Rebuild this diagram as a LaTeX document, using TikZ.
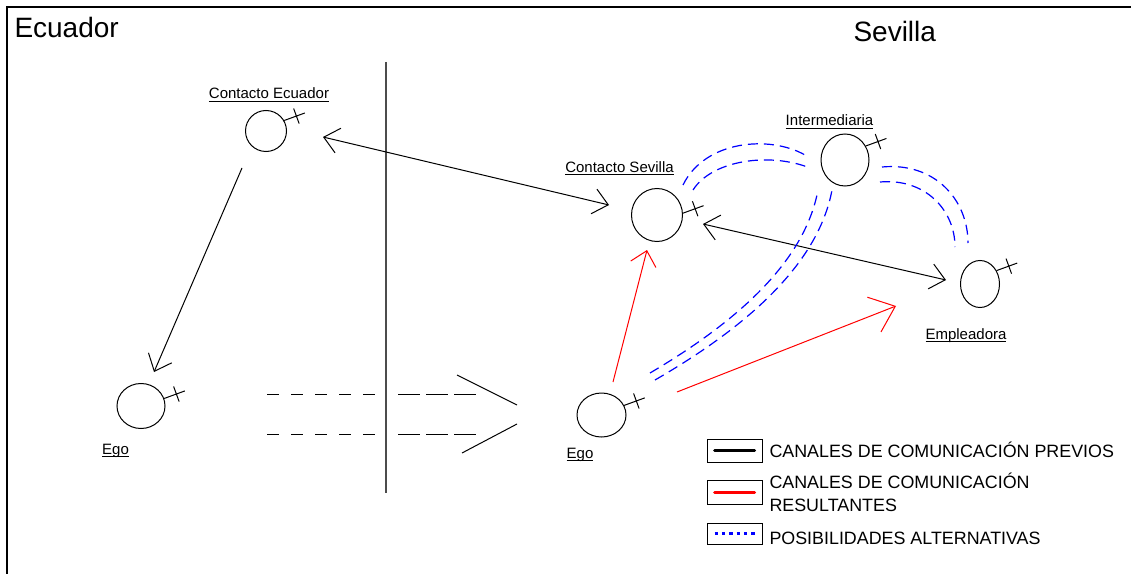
\documentclass[tikz,border=0pt]{standalone}
\usepackage{fontspec}
\setmainfont{Liberation Sans}
\usepackage{tikz}
\usepackage{xcolor}
\usetikzlibrary{arrows.meta,shapes.geometric}

\tikzset{
  persona/.style={draw, ellipse, inner sep=0pt},
  etiqueta/.style={font=\fontsize{11.25}{13}\selectfont, anchor=base, inner sep=0pt},
  titulo/.style={font=\fontsize{21}{25}\selectfont, anchor=base west, inner sep=0pt},
  leyenda/.style={font=\fontsize{13.4}{17.25}\selectfont, anchor=base west, inner sep=0pt, align=left},
  caja/.style={draw, rectangle, minimum width=41.25pt, inner sep=0pt},
  resultado/.style={red},
  alternativa/.style={blue, line width=0.9pt, dash pattern=on 7.5pt off 4.5pt},
  flecha/.tip={Straight Barb[length=11pt,width=19pt]},
  flecharoja/.tip={Straight Barb[length=10.5pt,width=19.5pt]},
  flechagrande/.tip={Straight Barb[length=17pt,width=28pt]}
}
\newcommand{\subr}[1]{\underline{\smash{#1}}}
\newcommand{\cruz}[2]{\draw (#1.#2) -- ++(-20:22) (#1.#2) ++(-20:13) ++(250:8) -- ++(70:16);}

\begin{document}
\begin{tikzpicture}[x=0.75pt,y=-0.75pt,line width=0.75pt]
\useasboundingbox (0,0) rectangle (1131,574);
\draw[line width=1.1pt] (1131,7) -- (7,7) -- (7,574);
\node[titulo] (ecuador) at (14,38) {Ecuador};
\node[titulo] (sevilla) at (853,42) {Sevilla};
\draw[line width=1.1pt, black!70] (386,62) -- (386,493);

% personas
\node[persona, minimum width=30.75pt, minimum height=30.75pt] (ce) at (266,131) {};
\node[persona, minimum width=36pt, minimum height=33.75pt] (ego1) at (141,406) {};
\node[persona, minimum width=38.25pt, minimum height=39.75pt] (cs) at (657,215) {};
\node[persona, minimum width=36pt, minimum height=39pt] (int) at (845,160) {};
\node[persona, minimum width=29.25pt, minimum height=35.25pt] (emp) at (980,284) {};
\node[persona, minimum width=36.75pt, minimum height=33pt] (ego2) at (601.5,415) {};
\cruz{ce}{30} \cruz{ego1}{18} \cruz{cs}{4} \cruz{int}{34} \cruz{emp}{39} \cruz{ego2}{23}

\node[etiqueta] (lce) at (269,99) {\subr{Contacto Ecuador}};
\node[etiqueta] (lego1) at (115.5,454) {\subr{Ego}};
\node[etiqueta] (lcs) at (619.5,172) {\subr{Contacto Sevilla}};
\node[etiqueta] (lint) at (829.5,126) {\subr{Intermediaria}};
\node[etiqueta] (lemp) at (966,339) {\subr{Empleadora}};
\node[etiqueta] (lego2) at (580,458) {\subr{Ego}};

% canales previos
\draw[{flecha}-{flecha}] ([shift={(57,6)}]ce.center) -- ([shift={(-48,-10)}]cs.center);
\draw[{flecha}-{flecha}] ([shift={(46,9)}]cs.center) -- ([shift={(-34,-4)}]emp.center);
\draw[-{flecha}] ([shift={(-24,37)}]ce.center) -- ([shift={(13,-34)}]ego1.center);

% canales resultantes
\draw[resultado, -{flecharoja}] ([shift={(11.5,-33)}]ego2.center) -- ([shift={(-10,35)}]cs.center);
\draw[resultado, -{flechagrande}] ([shift={(75.5,-23)}]ego2.center) -- ([shift={(-84,22)}]emp.center);

% posibilidades alternativas
\draw[alternativa] ([shift={(26,-30)}]cs.center) .. controls +(22,-45) and +(-35,-20) .. ([shift={(-40,-5)}]int.center);
\draw[alternativa] ([shift={(36,-25)}]cs.center) .. controls +(19,-30) and +(-40,-16) .. ([shift={(-35,8)}]int.center);
\draw[alternativa] ([shift={(37,7)}]int.center) .. controls +(53,-5) and +(0,-43) .. ([shift={(-12,-41)}]emp.center);
\draw[alternativa] ([shift={(35,22)}]int.center) .. controls +(45,-4) and +(0,-37) .. ([shift={(-25,-37)}]emp.center);
\draw[alternativa] ([shift={(48.5,-42)}]ego2.center) .. controls +(90,-53) and +(-13,70) .. ([shift={(-27,30)}]int.center);
\draw[alternativa] ([shift={(53.5,-35)}]ego2.center) .. controls +(90,-52) and +(-14,75) .. ([shift={(-13,30)}]int.center);

% traslado
\draw[dash pattern=on 9pt off 9pt] (267,394) -- (375,394) (267,434) -- (375,434);
\draw[dash pattern=on 16.5pt off 4.5pt] (398,394) -- (476,394) (398,434) -- (476,434);
\draw (457,375) -- (517,405) (517,424) -- (462,453);

% leyenda
\node[caja, minimum height=17.25pt] (caja1) at (734.5,450.5) {};
\node[caja, minimum height=18pt] (caja2) at (734.5,492) {};
\node[caja, minimum height=15.75pt] (caja3) at (734.5,533.5) {};
\draw[line width=2.25pt, line cap=round] ([xshift=6pt]caja1.west) -- ([xshift=-6pt]caja1.east);
\draw[line width=2.25pt, line cap=round, red] ([xshift=6pt]caja2.west) -- ([xshift=-6pt]caja2.east);
\draw[line width=2.25pt, blue, dash pattern=on 2.5pt off 3pt] ([xshift=6pt]caja3.west) -- ([xshift=-6pt]caja3.east);
\node[leyenda] (ley1) at (769,457) {CANALES DE COMUNICACIÓN PREVIOS};
\node[leyenda] (ley2) at (769,511) {CANALES DE COMUNICACIÓN\\RESULTANTES};
\node[leyenda] (ley3) at (769,544) {POSIBILIDADES ALTERNATIVAS};
\end{tikzpicture}
\end{document}
